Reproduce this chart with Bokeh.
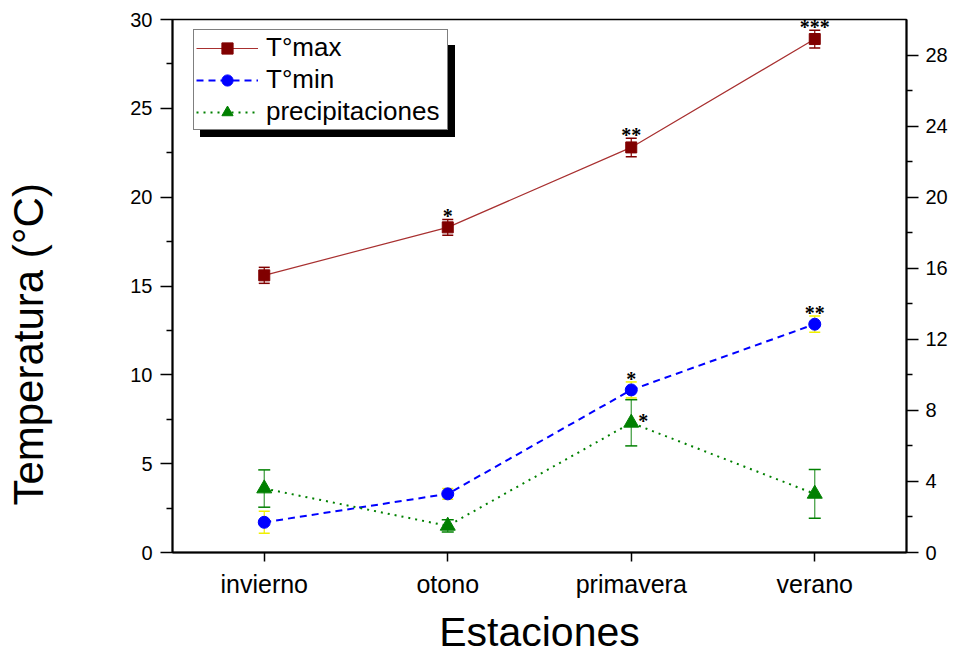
from bokeh.plotting import figure
from bokeh.models import (Range1d, LinearAxis, FixedTicker, Whisker, TeeHead,
                          ColumnDataSource, Legend, LegendItem, LabelSet)
from bokeh.embed import file_html
from bokeh.resources import INLINE

# ---------------- data ----------------
seasons = ["invierno", "otono", "primavera", "verano"]
tmax = [15.6, 18.3, 22.8, 28.9]
tmax_err = [0.45, 0.45, 0.52, 0.5]
tmin = [1.7, 3.3, 9.15, 12.85]
tmin_err = [0.62, 0.3, 0.45, 0.46]
precip = [3.6, 1.5, 7.3, 3.3]
precip_err = [1.05, 0.35, 1.3, 1.37]
tmax_sig = ["", "*", "**", "***"]
tmin_sig = ["", "", "*", "**"]
precip_sig = ["", "", "*", ""]
left_ticks = [0, 5, 10, 15, 20, 25, 30]
right_ticks = [0, 4, 8, 12, 16, 20, 24, 28]
x_title = "Estaciones"
y_title = "Temperatura (°C)"

FONT = "Liberation Sans"
xs = list(range(1, len(seasons) + 1))

src = ColumnDataSource(dict(
    x=xs,
    tmax=tmax, tmax_lo=[v - e for v, e in zip(tmax, tmax_err)], tmax_hi=[v + e for v, e in zip(tmax, tmax_err)],
    tmin=tmin, tmin_lo=[v - e for v, e in zip(tmin, tmin_err)], tmin_hi=[v + e for v, e in zip(tmin, tmin_err)],
    pr=precip, pr_lo=[v - e for v, e in zip(precip, precip_err)], pr_hi=[v + e for v, e in zip(precip, precip_err)],
    tmax_sig=tmax_sig, tmin_sig=tmin_sig, pr_sig=precip_sig,
))

p = figure(width=974, height=657, output_backend="svg", toolbar_location=None,
           x_range=Range1d(0.5, 4.5), y_range=Range1d(0, 30),
           min_border_left=172, min_border_right=68, min_border_top=19, min_border_bottom=105)
p.extra_y_ranges = {"precip": Range1d(0, 30)}
p.grid.visible = False
p.outline_line_color = "black"
p.outline_line_width = 1.5
p.background_fill_color = "white"
p.border_fill_color = "white"


def style_axis(ax, tick_len=12, minor_len=6, standoff=8):
    ax.axis_line_width = 2
    ax.axis_line_color = "black"
    ax.major_tick_line_width = 1.5
    ax.minor_tick_line_width = 1.5
    ax.major_tick_in = 0
    ax.major_tick_out = tick_len
    ax.minor_tick_in = 0
    ax.minor_tick_out = minor_len
    ax.major_label_text_font = FONT
    ax.major_label_text_font_size = "20px"
    ax.major_label_text_color = "black"
    ax.major_label_standoff = standoff
    ax.axis_label_text_font = FONT
    ax.axis_label_text_font_size = "41px"
    ax.axis_label_text_font_style = "normal"
    ax.axis_label_text_color = "black"


# x axis
xa = p.xaxis[0]
xa.ticker = FixedTicker(ticks=xs, minor_ticks=[])
xa.major_label_overrides = {i: s for i, s in zip(xs, seasons)}
style_axis(xa, tick_len=9, minor_len=0, standoff=8)
xa.major_label_text_font_size = "25px"
xa.axis_label = x_title
xa.axis_label_standoff = 8

# left axis (title padded with no-break spaces so that it sits lower, as in the original)
ya = p.yaxis[0]
ya.ticker = FixedTicker(ticks=left_ticks, minor_ticks=[t + 2.5 for t in left_ticks[:-1]])
style_axis(ya, standoff=8)
ya.axis_label = y_title + "\u00a0" * 10
ya.axis_label_text_font_size = "42px"
ya.axis_label_standoff = 75

# right axis
ra = LinearAxis(y_range_name="precip",
                ticker=FixedTicker(ticks=right_ticks, minor_ticks=[t + 2 for t in right_ticks[:-1]]))
style_axis(ra, standoff=7)
p.add_layout(ra, "right")

# ---------------- series ----------------
RED = "#800000"
BLUE = "#0000ff"
GREEN = "#008000"
YELLOW = "#f0f000"

p.add_layout(Whisker(source=src, base="x", upper="tmax_hi", lower="tmax_lo",
                     line_color=RED, line_width=1.2,
                     upper_head=TeeHead(size=11, line_color=RED, line_width=1.5),
                     lower_head=TeeHead(size=11, line_color=RED, line_width=1.5)))
p.add_layout(Whisker(source=src, base="x", upper="tmin_hi", lower="tmin_lo",
                     line_color=YELLOW, line_width=1.2,
                     upper_head=TeeHead(size=11, line_color=YELLOW, line_width=1.5),
                     lower_head=TeeHead(size=11, line_color=YELLOW, line_width=1.5)))
p.add_layout(Whisker(source=src, base="x", upper="pr_hi", lower="pr_lo", y_range_name="precip",
                     line_color="#3a9a3a", line_width=1.2,
                     upper_head=TeeHead(size=12, line_color=GREEN, line_width=1.5),
                     lower_head=TeeHead(size=12, line_color=GREEN, line_width=1.5)))

l1 = p.line("x", "tmax", source=src, line_color="#a83030", line_width=1.2)
s1 = p.scatter("x", "tmax", source=src, marker="square", size=11, fill_color=RED, line_color=RED)
l2 = p.line("x", "tmin", source=src, line_color=BLUE, line_width=2, line_dash="7 5")
s2 = p.scatter("x", "tmin", source=src, marker="circle", size=12, fill_color=BLUE, line_color=BLUE)
l3 = p.line("x", "pr", source=src, y_range_name="precip", line_color=GREEN, line_width=2, line_dash="2 5")
s3 = p.scatter("x", "pr", source=src, y_range_name="precip", marker="triangle", size=15,
               fill_color=GREEN, line_color=GREEN)

# significance marks
star_kw = dict(text_align="center", text_baseline="middle", text_font=FONT,
               text_font_size="20px", text_font_style="bold", text_color="black")
p.add_layout(LabelSet(x="x", y="tmax_hi", text="tmax_sig", source=src, y_offset=3, **star_kw))
p.add_layout(LabelSet(x="x", y="tmin_hi", text="tmin_sig", source=src, y_offset=3, **star_kw))
p.add_layout(LabelSet(x="x", y="pr", text="pr_sig", source=src, y_range_name="precip",
                      x_offset=12, y_offset=2, **star_kw))

# ---------------- legend with drop shadow ----------------
dummy = p.scatter(x=[], y=[], alpha=0)
labels = ["T°max", "T°min", "precipitaciones"]
leg_kw = dict(glyph_width=62, glyph_height=28, label_height=28, label_width=179,
              spacing=1, padding=2, margin=0, label_standoff=8,
              label_text_font=FONT, label_text_font_size="26px",
              label_text_baseline="middle", border_line_color="black", border_line_width=1)
shadow = Legend(items=[LegendItem(label=" ", renderers=[dummy]) for _ in labels],
                location=(28, 415), background_fill_color="black", background_fill_alpha=1,
                label_text_alpha=0, **leg_kw)
legend = Legend(items=[LegendItem(label=labels[0], renderers=[l1, s1]),
                       LegendItem(label=labels[1], renderers=[l2, s2]),
                       LegendItem(label=labels[2], renderers=[l3, s3])],
                location=(21, 422), background_fill_color="white", background_fill_alpha=1,
                label_text_color="black", **leg_kw)
p.add_layout(shadow, "center")
p.add_layout(legend, "center")

open("out.html", "w").write(file_html(p, INLINE))
